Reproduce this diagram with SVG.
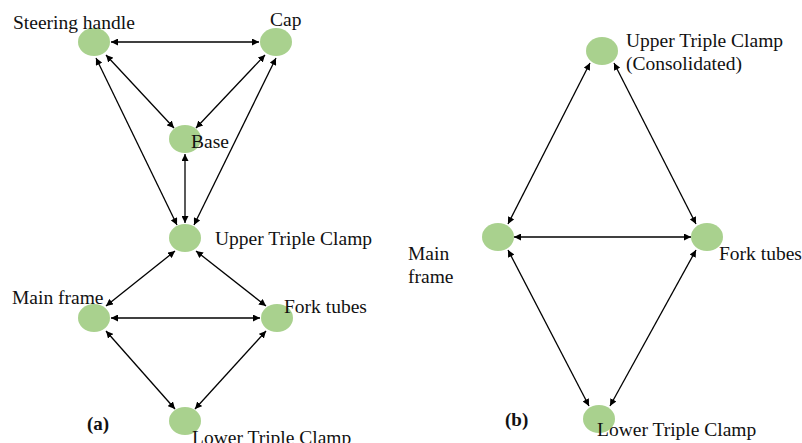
<svg xmlns="http://www.w3.org/2000/svg" width="802" height="443" viewBox="0 0 802 443">
<defs>
<marker id="ah" viewBox="0 0 10 10" refX="10" refY="5" markerWidth="7" markerHeight="7" markerUnits="userSpaceOnUse" orient="auto-start-reverse">
<path d="M0,0 L10,5 L0,10 z" fill="#000"/>
</marker>
<style>
.n{fill:#a9d18e}
.t{font-family:"Liberation Serif","Times New Roman",serif;font-size:19.5px;fill:#111}
.b{font-family:"Liberation Serif","Times New Roman",serif;font-size:19px;font-weight:bold;fill:#111}
.e{stroke:#000;stroke-width:1.3;fill:none;marker-start:url(#ah);marker-end:url(#ah)}
</style>
</defs>
<rect width="802" height="443" fill="#fff"/>
<g id="connectors">
<line class="e" x1="111" y1="42" x2="259" y2="42"/>
<line class="e" x1="106" y1="55" x2="174" y2="128"/>
<line class="e" x1="265" y1="55" x2="196" y2="128"/>
<line class="e" x1="96" y1="58" x2="177" y2="225"/>
<line class="e" x1="276" y1="58" x2="194" y2="225"/>
<line class="e" x1="185" y1="154" x2="185" y2="223"/>
<line class="e" x1="175" y1="251" x2="106" y2="306"/>
<line class="e" x1="196" y1="251" x2="266" y2="306"/>
<line class="e" x1="111" y1="318" x2="260" y2="318"/>
<line class="e" x1="106" y1="331" x2="175" y2="409"/>
<line class="e" x1="266" y1="331" x2="195" y2="409"/>
<line class="e" x1="590" y1="63" x2="508" y2="224"/>
<line class="e" x1="614" y1="63" x2="696" y2="224"/>
<line class="e" x1="514" y1="237" x2="691" y2="237"/>
<line class="e" x1="508" y1="250" x2="589" y2="406"/>
<line class="e" x1="696" y1="250" x2="610" y2="406"/>
</g>
<g id="steering-handle"><ellipse class="n" cx="94" cy="42" rx="16" ry="14"/><text class="t" x="13" y="29">Steering handle</text></g>
<g id="cap"><ellipse class="n" cx="276" cy="42" rx="16" ry="14"/><text class="t" x="270" y="26">Cap</text></g>
<g id="base"><ellipse class="n" cx="185" cy="139" rx="16" ry="14"/><text class="t" x="191" y="148">Base</text></g>
<g id="upper-triple-clamp-a"><ellipse class="n" cx="185" cy="238" rx="16" ry="14"/><text class="t" x="215" y="245">Upper Triple Clamp</text></g>
<g id="main-frame-a"><ellipse class="n" cx="94" cy="318" rx="16" ry="14"/><text class="t" x="12" y="304">Main frame</text></g>
<g id="fork-tubes-a"><ellipse class="n" cx="277" cy="318" rx="16" ry="14"/><text class="t" x="284" y="313">Fork tubes</text></g>
<g id="lower-triple-clamp-a"><ellipse class="n" cx="185" cy="421" rx="16" ry="14"/><text class="t" x="192" y="444">Lower Triple Clamp</text></g>
<text class="b" x="87" y="430">(a)</text>
<g id="upper-triple-clamp-b"><ellipse class="n" cx="602" cy="51" rx="16" ry="14"/><text class="t" x="626" y="47">Upper Triple Clamp</text><text class="t" x="626" y="70">(Consolidated)</text></g>
<g id="main-frame-b"><ellipse class="n" cx="498" cy="237" rx="16" ry="14"/><text class="t" x="408" y="260">Main</text><text class="t" x="408" y="283">frame</text></g>
<g id="fork-tubes-b"><ellipse class="n" cx="707" cy="237" rx="16" ry="14"/><text class="t" x="719" y="260">Fork tubes</text></g>
<g id="lower-triple-clamp-b"><ellipse class="n" cx="599" cy="419" rx="16" ry="14"/><text class="t" x="597" y="436">Lower Triple Clamp</text></g>
<text class="b" x="505" y="426">(b)</text>
</svg>
